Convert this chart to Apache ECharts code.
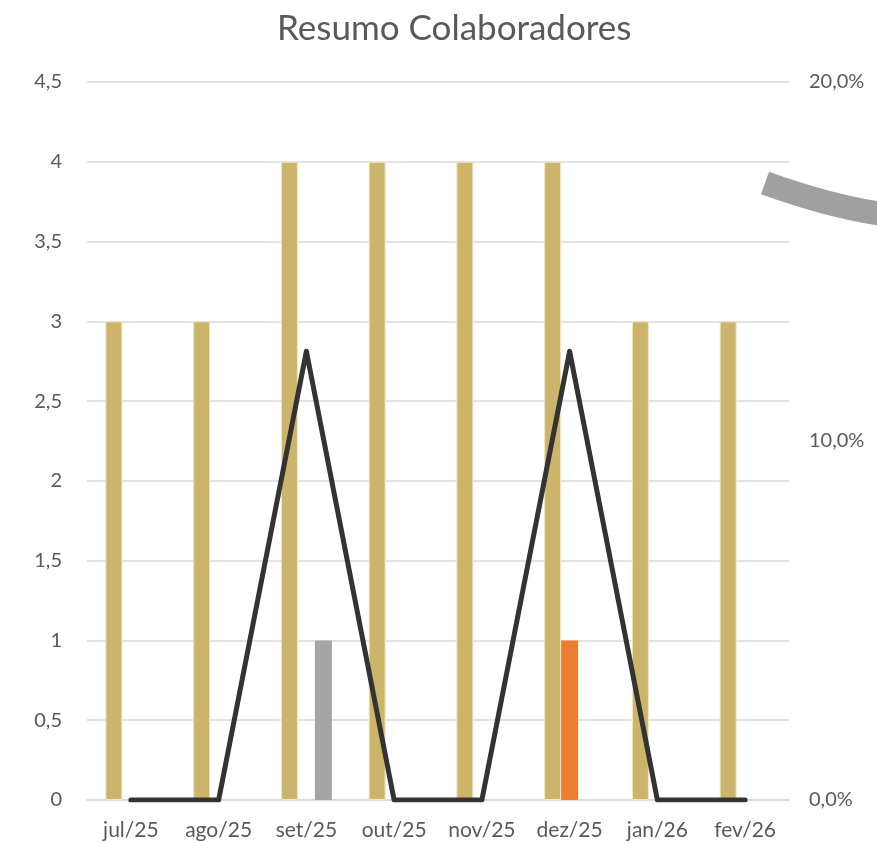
<!DOCTYPE html>
<html>
<head>
<meta charset="utf-8">
<script src="https://cdn.jsdelivr.net/npm/echarts@6/dist/echarts.min.js"></script>
<style>
  html, body { margin: 0; padding: 0; background: #fff; }
  #chart { width: 877px; height: 843px; }
</style>
</head>
<body>
<div id="chart"></div>
<script>
// dados do gráfico
var meses = ['jul/25', 'ago/25', 'set/25', 'out/25', 'nov/25', 'dez/25', 'jan/26', 'fev/26'];
var colaboradores = [3, 3, 4, 4, 4, 4, 3, 3];
var desligamentos = [0, 0, 0, 0, 0, 1, 0, 0];
var admissoes = [0, 0, 1, 0, 0, 0, 0, 0];
var turnover = [0, 0, 0.125, 0, 0, 0.125, 0, 0];

var fonte = 'Lato';
var corTexto = '#595959';

var myChart = echarts.init(document.getElementById('chart'));
var option = {
    animation: false,
    textStyle: { fontFamily: fonte },
    title: {
        text: 'Resumo Colaboradores',
        left: 272,
        top: 6,
        textStyle: { fontFamily: fonte, fontSize: 35, fontWeight: 'normal', color: corTexto }
    },
    grid: { left: 87, right: 88, top: 82, bottom: 43 },
    xAxis: {
        type: 'category',
        data: meses,
        axisTick: { show: false },
        axisLine: { lineStyle: { color: '#d9d9d9', width: 1.5 } },
        axisLabel: { color: corTexto, fontSize: 21, margin: 20, fontFamily: fonte }
    },
    yAxis: [
        {
            type: 'value',
            min: 0, max: 4.5, interval: 0.5,
            axisLine: { show: false },
            axisTick: { show: false },
            splitLine: { lineStyle: { color: '#d9d9d9', width: 1.5 } },
            axisLabel: {
                color: corTexto, fontSize: 20, margin: 25, fontFamily: fonte,
                formatter: function (v) { return String(v).replace('.', ','); }
            }
        },
        {
            type: 'value',
            min: 0, max: 0.2, interval: 0.1,
            axisLine: { show: false },
            axisTick: { show: false },
            splitLine: { show: false },
            axisLabel: {
                color: corTexto, fontSize: 20, margin: 20, fontFamily: fonte,
                formatter: function (v) { return (v * 100).toFixed(1).replace('.', ',') + '%'; }
            }
        }
    ],
    series: [
        {
            name: 'Colaboradores',
            type: 'bar',
            data: colaboradores,
            barWidth: 17,
            barGap: '0%',
            itemStyle: { color: '#cdb46b', borderColor: '#efe6cc', borderWidth: 1 }
        },
        {
            name: 'Desligamentos',
            type: 'bar',
            data: desligamentos,
            barWidth: 17,
            barGap: '0%',
            itemStyle: { color: '#ed7d31' }
        },
        {
            name: 'Admissões',
            type: 'bar',
            data: admissoes,
            barWidth: 17,
            barGap: '0%',
            itemStyle: { color: '#a5a5a5' }
        },
        {
            name: 'Turnover',
            type: 'line',
            yAxisIndex: 1,
            data: turnover,
            symbol: 'none',
            lineStyle: { color: '#333333', width: 5, cap: 'round', join: 'round' }
        }
    ],
    graphic: [
        {
            // arco cinza cortado no canto superior direito
            type: 'bezierCurve',
            shape: { x1: 765, y1: 183, cpx1: 843, cpy1: 211, x2: 900, y2: 216 },
            style: { stroke: '#a0a0a0', lineWidth: 24, fill: null, lineCap: 'butt' }
        }
    ]
};
myChart.setOption(option);
</script>
</body>
</html>
